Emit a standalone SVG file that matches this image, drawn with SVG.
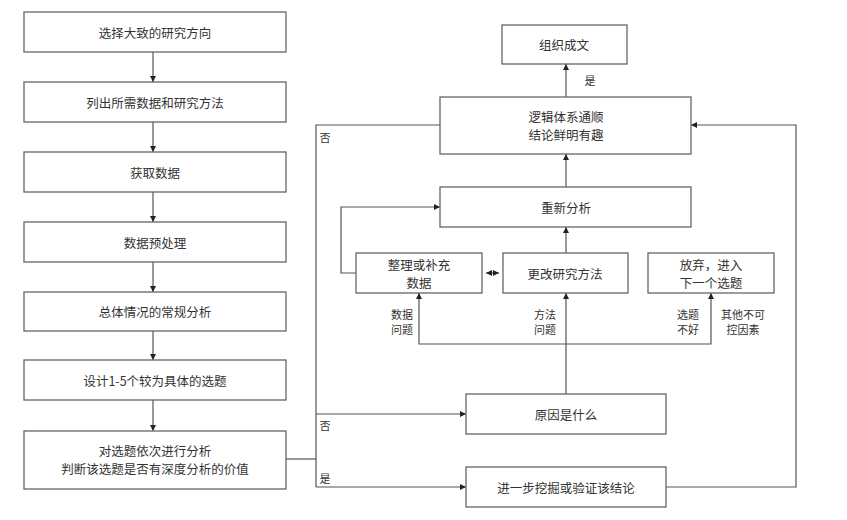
<svg xmlns="http://www.w3.org/2000/svg" width="847" height="520" viewBox="0 0 847 520">
<defs>
<marker id="ah" viewBox="0 0 6 6" refX="6" refY="3" markerWidth="6" markerHeight="6" markerUnits="userSpaceOnUse" orient="auto-start-reverse">
<path d="M0,0 L6,3 L0,6 z" fill="#222"/>
</marker>
<style>
.box{fill:#fff;stroke:#666;stroke-width:1.3}
.t{font-family:"Noto Sans CJK SC","Noto Sans",sans-serif;font-size:12.5px;fill:#333;text-anchor:middle;dominant-baseline:central}
.s{font-family:"Noto Sans CJK SC","Noto Sans",sans-serif;font-size:11px;fill:#333;text-anchor:middle;dominant-baseline:central}
.c{fill:none;stroke:#555;stroke-width:1.2}
.a{marker-end:url(#ah)}
</style>
</defs>
<rect width="847" height="520" fill="#fff"/>
<g id="connectors">
<path class="c a" d="M153,52 V82"/>
<path class="c a" d="M153,122 V152"/>
<path class="c a" d="M153,192 V222"/>
<path class="c a" d="M153,262 V292"/>
<path class="c a" d="M153,331 V360"/>
<path class="c a" d="M153,400 V431"/>
<path class="c" d="M286,459 H316"/>
<path class="c" d="M440,125 H316 V487"/>
<path class="c a" d="M316,414 H466"/>
<path class="c a" d="M316,487 H466"/>
<path class="c a" d="M666,487 H796 V125 H691"/>
<path class="c a" d="M566,97 V64"/>
<path class="c a" d="M566,187 V154"/>
<path class="c a" d="M566,253 V227"/>
<path class="c a" d="M356,273 H341 V207 H440"/>
<path class="c" d="M486,273 H499" marker-start="url(#ah)" marker-end="url(#ah)"/>
<path class="c a" d="M566,394 V293"/>
<path class="c a" d="M566,344 H419 V293"/>
<path class="c a" d="M566,344 H711 V293"/>
<text class="s" x="590" y="80">是</text>
<text class="s" x="325" y="137">否</text>
<text class="s" x="325" y="425">否</text>
<text class="s" x="325" y="478">是</text>
<text class="s" x="402" y="314">数据</text>
<text class="s" x="402" y="329">问题</text>
<text class="s" x="545" y="314">方法</text>
<text class="s" x="545" y="329">问题</text>
<text class="s" x="688" y="314">选题</text>
<text class="s" x="688" y="329">不好</text>
<text class="s" x="743" y="314">其他不可</text>
<text class="s" x="743" y="329">控因素</text>
</g>
<g id="n1"><rect class="box" x="24" y="12" width="262" height="40"/><text class="t" x="155" y="32">选择大致的研究方向</text></g>
<g id="n2"><rect class="box" x="24" y="82" width="262" height="40"/><text class="t" x="155" y="102">列出所需数据和研究方法</text></g>
<g id="n3"><rect class="box" x="24" y="152" width="262" height="40"/><text class="t" x="155" y="172">获取数据</text></g>
<g id="n4"><rect class="box" x="24" y="222" width="262" height="40"/><text class="t" x="155" y="242">数据预处理</text></g>
<g id="n5"><rect class="box" x="24" y="292" width="262" height="39"/><text class="t" x="155" y="311">总体情况的常规分析</text></g>
<g id="n6"><rect class="box" x="24" y="360" width="262" height="40"/><text class="t" x="155" y="380">设计1-5个较为具体的选题</text></g>
<g id="n7"><rect class="box" x="24" y="431" width="262" height="58"/><text class="t" x="155" y="450">对选题依次进行分析</text><text class="t" x="155" y="468">判断该选题是否有深度分析的价值</text></g>
<g id="n8"><rect class="box" x="502" y="25" width="125" height="39"/><text class="t" x="564" y="44">组织成文</text></g>
<g id="n9"><rect class="box" x="440" y="97" width="251" height="57"/><text class="t" x="566" y="116">逻辑体系通顺</text><text class="t" x="566" y="134">结论鲜明有趣</text></g>
<g id="n10"><rect class="box" x="440" y="187" width="251" height="40"/><text class="t" x="566" y="207">重新分析</text></g>
<g id="n11"><rect class="box" x="356" y="253" width="126" height="40"/><text class="t" x="419" y="264">整理或补充</text><text class="t" x="419" y="282">数据</text></g>
<g id="n12"><rect class="box" x="503" y="253" width="125" height="40"/><text class="t" x="565" y="273">更改研究方法</text></g>
<g id="n13"><rect class="box" x="648" y="253" width="126" height="40"/><text class="t" x="711" y="264">放弃，进入</text><text class="t" x="711" y="282">下一个选题</text></g>
<g id="n14"><rect class="box" x="466" y="394" width="200" height="40"/><text class="t" x="566" y="414">原因是什么</text></g>
<g id="n15"><rect class="box" x="466" y="467" width="200" height="40"/><text class="t" x="566" y="487">进一步挖掘或验证该结论</text></g>
</svg>
